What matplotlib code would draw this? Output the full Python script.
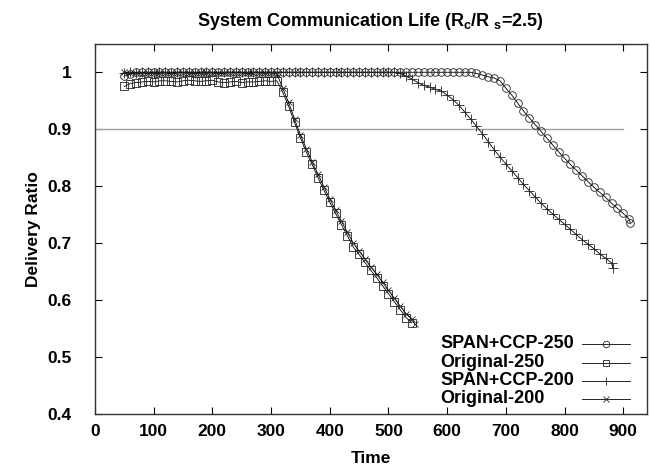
import numpy as np
import matplotlib.pyplot as plt

plt.rcParams['font.family'] = ['Liberation Sans', 'DejaVu Sans']
plt.rcParams['font.weight'] = 'bold'
plt.rcParams['mathtext.fontset'] = 'custom'
plt.rcParams['mathtext.rm'] = 'Liberation Sans:bold'
plt.rcParams['mathtext.it'] = 'Liberation Sans:bold'
plt.rcParams['mathtext.bf'] = 'Liberation Sans:bold'

# flat parts sampled every 10 time units
t_flat = list(range(50, 320, 10))

# SPAN+CCP-250 (circles)
span250_t = list(range(50, 920, 10)) + [912]
span250_v = ([0.993, 0.997] + [1.0] * 58 +
             [0.998, 0.995, 0.992, 0.99, 0.985, 0.972, 0.96, 0.946, 0.932, 0.92,
              0.908, 0.896, 0.884, 0.872, 0.86, 0.849, 0.838, 0.828, 0.818, 0.808,
              0.798, 0.789, 0.78, 0.77, 0.761, 0.752, 0.742, 0.735])

# Original-250 (squares)
orig250_t = t_flat + list(range(320, 550, 10))
orig250_v = ([0.975, 0.98, 0.982, 0.983, 0.984, 0.983, 0.985, 0.985, 0.984, 0.983,
              0.985, 0.986, 0.985, 0.984, 0.985, 0.986, 0.983, 0.982, 0.983, 0.984,
              0.982, 0.983, 0.983, 0.984, 0.985, 0.984, 0.985] +
             [0.965, 0.94, 0.912, 0.885, 0.86, 0.838, 0.815, 0.793, 0.772, 0.752,
              0.732, 0.713, 0.693, 0.68, 0.666, 0.652, 0.639, 0.625, 0.611, 0.597,
              0.583, 0.569, 0.56])

# SPAN+CCP-200 (plus)
span200_t = list(range(50, 890, 10)) + [882]
span200_v = ([0.999, 1.0, 0.999, 1.0, 1.0, 0.999, 1.0, 1.0, 0.999, 1.0,
              1.0, 1.0, 0.999, 1.0, 1.0, 1.0, 0.999, 1.0, 1.0, 1.0,
              1.0, 0.999, 1.0, 1.0, 1.0, 1.0, 1.0, 1.0, 1.0, 1.0,
              1.0, 1.0, 1.0, 1.0, 1.0, 1.0, 1.0, 1.0, 1.0, 1.0,
              1.0, 1.0, 1.0, 1.0, 1.0, 1.0, 1.0, 0.998] +
             [0.993, 0.988, 0.982, 0.977, 0.974, 0.97, 0.967, 0.96, 0.952, 0.942,
              0.93, 0.918, 0.905, 0.892, 0.878, 0.864, 0.851, 0.839, 0.827, 0.815,
              0.803, 0.792, 0.781, 0.77, 0.76, 0.751, 0.742, 0.733, 0.724, 0.715,
              0.706, 0.698, 0.69, 0.681, 0.673, 0.665, 0.657])

# Original-200 (x)
orig200_t = t_flat + list(range(320, 550, 10)) + [545]
orig200_v = ([1.0, 0.998, 0.999, 0.997, 0.998, 0.999, 0.998, 0.999, 0.998, 0.999,
              0.999, 0.998, 0.999, 0.999, 0.998, 0.999, 0.999, 0.998, 0.999, 0.999,
              0.999, 0.998, 0.999, 0.999, 0.998, 0.999, 0.997] +
             [0.972, 0.947, 0.918, 0.89, 0.866, 0.843, 0.821, 0.799, 0.778, 0.758,
              0.738, 0.719, 0.7, 0.686, 0.672, 0.658, 0.645, 0.631, 0.617, 0.603,
              0.589, 0.576, 0.567, 0.557])

series = [
    ('SPAN+CCP-250', span250_t, span250_v, 'o', 5.5),
    ('Original-250', orig250_t, orig250_v, 's', 5.5),
    ('SPAN+CCP-200', span200_t, span200_v, '+', 6.5),
    ('Original-200', orig200_t, orig200_v, 'x', 4.5),
]

x_ticks = [0, 100, 200, 300, 400, 500, 600, 700, 800, 900]
y_ticks = [0.4, 0.5, 0.6, 0.7, 0.8, 0.9, 1.0]
y_labels = ['0.4', '0.5', '0.6', '0.7', '0.8', '0.9', '1']

fig = plt.figure(figsize=(6.5, 4.66), dpi=100)
ax = fig.add_axes([0.146, 0.112, 0.849, 0.794])

ax.plot([0, 900], [0.9, 0.9], color='#a0a0a0', lw=1.0)

mk = dict(color='black', lw=0.6, markerfacecolor='none', markeredgecolor='#222222',
          markeredgewidth=0.6)
for name, t, v, m, ms in series:
    ax.plot(t, v, marker=m, ms=ms, **mk)

ax.set_xlim(0, 940)
ax.set_ylim(0.4, 1.05)
ax.set_xticks(x_ticks)
ax.set_xticklabels([str(v) for v in x_ticks])
ax.set_yticks(y_ticks)
ax.set_yticklabels(y_labels)
ax.tick_params(direction='in', length=5, width=0.8, top=True, right=True,
               labelsize=12.5)
ax.tick_params(axis='y', pad=17)
ax.tick_params(axis='x', pad=7)
for s in ax.spines.values():
    s.set_linewidth(1.0)
    s.set_color('#333333')

ax.set_xlabel('Time', fontsize=12.5, fontweight='bold', labelpad=9)
ax.set_ylabel('Delivery Ratio', fontsize=12.5, fontweight='bold', labelpad=4)
ax.set_title(r'System Communication Life (R$_c$/R $_s$=2.5)', fontsize=13,
             fontweight='bold', pad=13)

# gnuplot-style key: labels left-aligned, samples to the right
key_rows = [0.189, 0.138, 0.089, 0.041]
for (name, t, v, m, ms), yk in zip(series, key_rows):
    ax.text(0.626, yk, name, transform=ax.transAxes, ha='left', va='center',
            fontsize=13, fontweight='bold')
    ax.plot([0.882, 0.969], [yk, yk], transform=ax.transAxes, color='black',
            lw=0.6, clip_on=False)
    ax.plot([0.926], [yk], transform=ax.transAxes, marker=m, ms=ms * 0.85,
            markerfacecolor='none', markeredgecolor='#222222', markeredgewidth=0.6,
            linestyle='none', clip_on=False)

fig.savefig('out.png', dpi=100)
